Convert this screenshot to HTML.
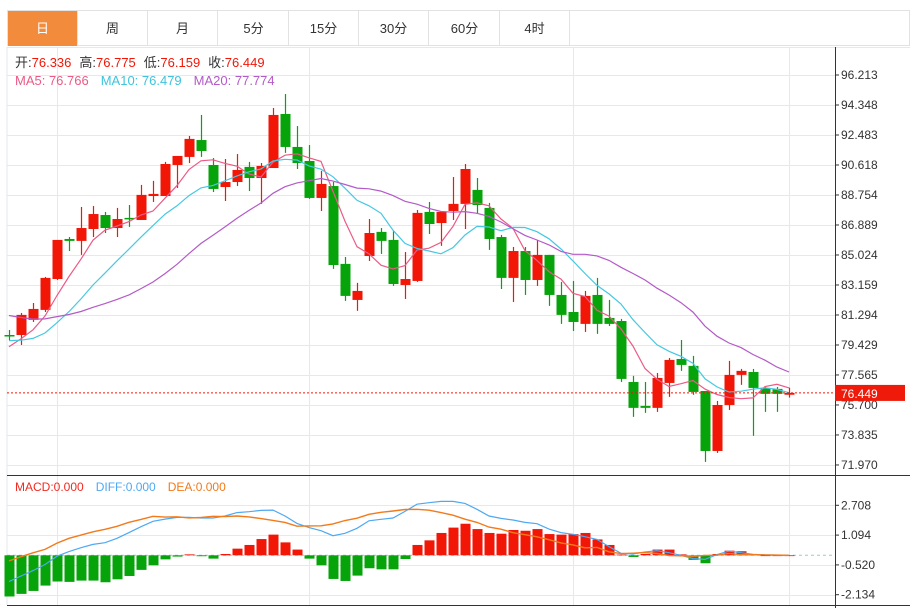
<!DOCTYPE html>
<html><head><meta charset="utf-8">
<style>
body{margin:0;background:#fff;width:914px;height:608px;overflow:hidden;font-family:"Liberation Sans","Noto Sans CJK SC",sans-serif;}
#tabs{position:absolute;left:7px;top:10px;width:903px;height:36px;border:1px solid #e2e2e2;box-sizing:border-box;}
.tab{position:absolute;top:0;height:35px;line-height:35px;text-align:center;font-size:13px;color:#333;border-right:1px solid #e2e2e2;box-sizing:border-box;width:70px;}
.tab.on{background:#f28c3c;color:#fff;}
svg{position:absolute;left:0;top:0;}
</style></head><body>
<div id="tabs">
<div class="tab on" style="left:0">日</div>
<div class="tab" style="left:70px">周</div>
<div class="tab" style="left:140px">月</div>
<div class="tab" style="left:211px">5分</div>
<div class="tab" style="left:281px">15分</div>
<div class="tab" style="left:351px">30分</div>
<div class="tab" style="left:422px">60分</div>
<div class="tab" style="left:492px">4时</div>
</div>
<svg id="chart" width="914" height="608"></svg>
<script>
const opens=[80.05,80.05,80.99,81.61,83.53,86.02,85.90,86.64,87.51,86.70,87.33,87.20,88.69,88.69,90.62,91.12,92.17,90.62,89.25,89.56,90.50,89.81,90.43,93.79,91.74,90.87,88.57,89.31,84.47,82.23,84.96,86.46,85.96,83.16,83.41,87.70,87.01,87.76,88.20,89.07,87.95,86.14,83.60,85.27,83.47,85.03,82.54,81.48,80.74,82.54,81.11,80.92,77.13,75.64,75.52,77.07,78.56,78.13,76.57,72.84,75.70,77.57,77.75,76.76,76.70,76.336];
const highs=[80.36,81.42,82.04,83.66,85.96,86.14,88.01,88.07,87.70,87.95,88.13,89.38,89.63,90.81,91.18,92.42,93.73,91.05,90.99,91.30,90.81,90.74,94.16,95.03,93.04,91.86,90.25,89.56,84.90,83.29,87.26,86.70,86.52,85.21,87.82,88.32,87.70,89.87,90.68,89.81,88.26,86.27,85.52,85.52,85.96,85.03,83.35,83.41,82.79,83.60,82.23,81.05,77.51,77.13,77.69,78.62,79.74,78.75,76.57,75.95,78.44,77.94,77.94,76.88,76.82,76.775];
const lows=[79.74,79.43,80.86,81.48,83.47,85.27,85.03,86.14,86.39,86.14,86.77,87.20,88.32,88.69,89.19,90.74,91.12,88.94,88.38,89.31,89.00,88.20,90.43,91.37,90.37,88.51,87.76,84.16,82.17,81.55,84.65,85.09,83.10,82.29,83.35,86.33,85.59,87.20,86.64,87.57,85.34,82.91,82.10,82.54,83.10,81.86,80.74,80.30,80.24,80.12,80.61,77.13,74.96,75.21,75.27,76.20,77.82,76.33,72.16,72.72,75.39,76.95,73.78,75.27,75.27,76.159];
const closes=[79.99,81.30,81.67,83.60,85.96,85.90,86.70,87.57,86.70,87.26,87.26,88.76,88.82,90.68,91.18,92.24,91.49,89.13,89.56,90.31,89.81,90.56,93.73,91.74,90.74,88.57,89.44,84.40,82.48,82.79,86.39,85.90,83.22,83.53,87.64,86.95,87.70,88.20,90.37,88.13,86.02,83.60,85.27,83.47,85.03,82.54,81.30,80.86,82.48,80.74,80.74,77.32,75.52,75.52,77.38,78.50,78.19,76.51,72.84,75.70,77.57,77.82,76.76,76.39,76.39,76.449];
const prevCloses=[83.8,83.6,83.4,83.1,83.3,82.9,82.4,82.0,82.1,81.6,81.0,80.6,80.2,79.6,79.0,78.8,78.9,79.3,79.6];
const macdVals=[-2.23,-2.09,-1.93,-1.64,-1.42,-1.44,-1.37,-1.37,-1.46,-1.30,-1.12,-0.79,-0.54,-0.22,-0.07,0.05,-0.05,-0.18,0.07,0.36,0.56,0.88,1.12,0.70,0.31,-0.18,-0.54,-1.28,-1.39,-1.10,-0.70,-0.76,-0.76,-0.20,0.56,0.81,1.21,1.50,1.71,1.42,1.21,1.17,1.37,1.33,1.42,1.15,1.12,1.15,1.21,0.86,0.56,0.04,-0.09,0.07,0.31,0.31,0.05,-0.25,-0.43,0.07,0.25,0.22,0.04,0,0,0];
const diffVals=[-1.42,-1.12,-0.83,-0.50,-0.05,0.20,0.41,0.59,0.68,0.92,1.23,1.55,1.84,1.96,2.05,2.05,2.02,2.02,2.13,2.31,2.36,2.43,2.45,2.13,1.73,1.50,1.33,1.06,1.19,1.46,1.87,1.95,2.02,2.38,2.77,2.85,2.92,2.92,2.81,2.49,2.13,2.00,1.91,1.78,1.71,1.42,1.23,1.14,1.01,0.86,0.47,0.11,0.07,0.18,0.25,0.14,0,-0.18,-0.22,0.04,0.23,0.14,0.05,0.02,0.01,0];
const priceTicks=["96.213","94.348","92.483","90.618","88.754","86.889","85.024","83.159","81.294","79.429","77.565","75.700","73.835","71.970"];
const macdTicks=["2.708","1.094","-0.520","-2.134"];
const lastPrice=76.449;

const svg=document.getElementById('chart');
const NS='http://www.w3.org/2000/svg';
function mk(tag,attrs,parent){const e=document.createElementNS(NS,tag);for(const k in attrs)e.setAttribute(k,attrs[k]);(parent||svg).appendChild(e);return e;}
const RED='#f21607',GREEN='#06a30a';
const L=7,R=835;
const xAt=i=>9+12*i;
const yP=p=>75+(96.213-p)*(30/1.865);
const yM=v=>555.3-v*(29.8/1.614);

// grid
const grid=mk('g',{});


priceTicks.forEach(t=>{const y=Math.round(yP(+t))+0.5;mk('line',{x1:L,x2:R,y1:y,y2:y,stroke:'#e3e9ef','stroke-width':1},grid);});
macdTicks.forEach(t=>{const y=Math.round(yM(+t))+0.5;mk('line',{x1:L,x2:R,y1:y,y2:y,stroke:'#e3e9ef','stroke-width':1},grid);});
[57,309,573,789].forEach(x=>{mk('line',{x1:x+0.5,x2:x+0.5,y1:47,y2:605,stroke:'#e3e9ef'},grid);});
mk('line',{x1:L,x2:L,y1:47,y2:605,stroke:'#e3e9ef'},grid);
mk('line',{x1:L,x2:910,y1:47.5,y2:47.5,stroke:'#e3e9ef'},grid);
// axes
const ax=mk('g',{});


mk('line',{x1:R+0.5,x2:R+0.5,y1:47,y2:608,stroke:'#333'},ax);
mk('line',{x1:L,x2:910,y1:475.5,y2:475.5,stroke:'#333'},ax);
mk('line',{x1:L,x2:910,y1:605.5,y2:605.5,stroke:'#333'},ax);
priceTicks.forEach(t=>{const y=yP(+t);mk('line',{x1:R,x2:R+4,y1:y,y2:y,stroke:'#333'},ax);const tx=mk('text',{x:R+6,y:y+4,'font-size':12,fill:'#333'},ax);tx.textContent=t;});
macdTicks.forEach(t=>{const y=yM(+t);mk('line',{x1:R,x2:R+4,y1:y,y2:y,stroke:'#333'},ax);const tx=mk('text',{x:R+6,y:y+4,'font-size':12,fill:'#333'},ax);tx.textContent=t;});

// candles
const cg=mk('g',{});


closes.forEach((c,i)=>{const o=opens[i],up=c>=o,col=up?RED:GREEN,x=xAt(i);
 const g=mk('g',{},cg);
 
 
 mk('line',{x1:x+0.5,x2:x+0.5,y1:yP(highs[i]),y2:yP(lows[i]),stroke:col,'stroke-width':1.2},g);
 const t=yP(Math.max(o,c)),b=yP(Math.min(o,c));
 mk('rect',{x:x-4.5,y:t,width:10,height:Math.max(1.5,b-t),fill:col},g);
});
// MAs
const all=prevCloses.concat(closes),off=prevCloses.length;
function ma(n){return closes.map((_,i)=>{let s=0,k=0;for(let j=off+i;j>off+i-n&&j>=0;j--){s+=all[j];k++;}return s/k;});}
[[5,'#ec5a86','ma5-line'],[10,'#45c8e2','ma10-line'],[20,'#b45ac8','ma20-line']].forEach(([n,col,name])=>{
 const v=ma(n);const p=mk('polyline',{points:v.map((y,i)=>xAt(i)+','+yP(y).toFixed(1)).join(' '),fill:'none',stroke:col,'stroke-width':1.2});
 
 
});
// last price
const ly=yP(lastPrice);
const dl=mk('line',{x1:L,x2:R,y1:ly,y2:ly,stroke:RED,'stroke-dasharray':'2,2'});


const lb=mk('rect',{x:R,y:ly-8,width:70,height:16,fill:'#ef1a0a'});


const lt=mk('text',{x:R+6,y:ly+5,'font-size':12,fill:'#fff'});lt.textContent=lastPrice.toFixed(3);



// MACD
const z=yM(0);
const zl=mk('line',{x1:L,x2:R,y1:z,y2:z,stroke:'#9cc',  'stroke-dasharray':'3,3'});


const mg=mk('g',{});


macdVals.forEach((v,i)=>{const y=yM(v);const r=mk('rect',{x:xAt(i)-4.5,y:Math.min(y,z),width:10,height:Math.max(0.8,Math.abs(y-z)),fill:v>=0?RED:GREEN},mg);
 
 });
const deaVals=diffVals.map((d,i)=>d-macdVals[i]/2);
const dp=mk('polyline',{points:diffVals.map((v,i)=>xAt(i)+','+yM(v).toFixed(1)).join(' '),fill:'none',stroke:'#4ea9f2','stroke-width':1.2});


const ep=mk('polyline',{points:deaVals.map((v,i)=>xAt(i)+','+yM(v).toFixed(1)).join(' '),fill:'none',stroke:'#f27a1a','stroke-width':1.4});



// legends
function legend(y,items,name){const t=mk('text',{x:15,y:y,'font-size':13});
 items.forEach(([s,c,dx])=>{const ts=mk('tspan',{fill:c},t);if(dx)ts.setAttribute('dx',dx);ts.textContent=s;});}
legend(67,[['开:','#333'],['76.336',RED],['高:','#333',8],['76.775',RED],['低:','#333',8],['76.159',RED],['收:','#333',8],['76.449',RED]],'ohlc-legend');
legend(85,[['MA5: 76.766','#ec5a86'],['MA10: 76.479','#3dc4dc',12],['MA20: 77.774','#b45ac8',12]],'ma-legend');
const ml=mk('text',{x:15,y:491,'font-size':12});
[['MACD:0.000','#f02a20',0],['DIFF:0.000','#4ea9f2',12],['DEA:0.000','#f27a1a',12]].forEach(([s,c,dx])=>{const ts=mk('tspan',{fill:c,dx:dx},ml);ts.textContent=s;});
</script>
</body></html>
